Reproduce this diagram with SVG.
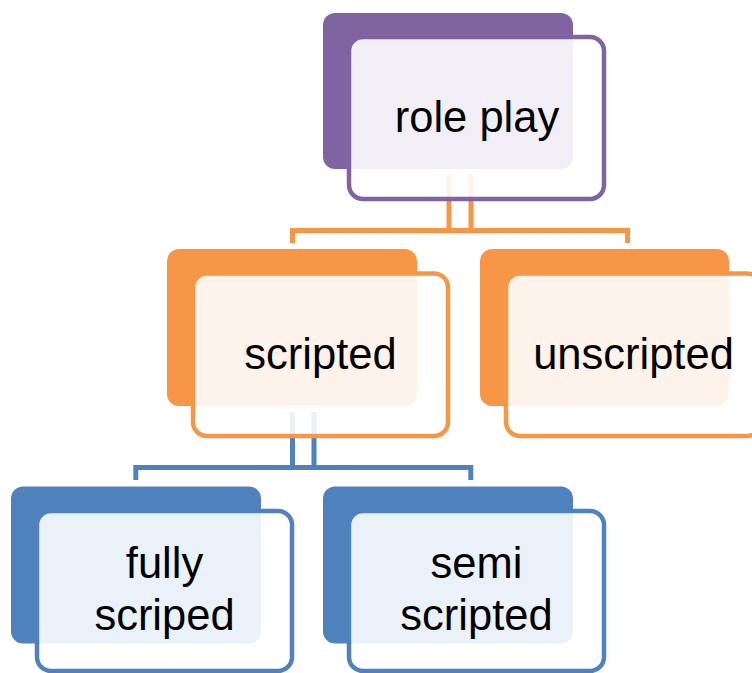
<svg xmlns="http://www.w3.org/2000/svg" width="752" height="673" viewBox="0 0 752 673">
<style>
.bg{fill:#fff}
.lbl{font-family:"Liberation Sans",Arial,sans-serif;font-size:43.5px;fill:#000;text-anchor:middle}
.front{fill:#fff;fill-opacity:.89;stroke-width:4.5}
.conn{fill:none;stroke-width:5;stroke-linejoin:miter}
.p .back{fill:#8064A2}.p .front{stroke:#8064A2}
.o .back{fill:#F79646}.o .front{stroke:#F79646}
.b .back{fill:#4F81BD}.b .front{stroke:#4F81BD}
</style>
<rect class="bg" x="0" y="0" width="752" height="673"/>
<g id="connectors">
<path class="conn" stroke="#F79646" d="M449,175 V230.5 M471,175 V230.5 M292.5,243 V230.5 H627.5 V243"/>
<path class="conn" stroke="#4F81BD" d="M292.5,412 V467.5 M314,412 V467.5 M135.8,480 V467.5 H470.8 V480"/>
</g>
<g id="role-play" class="p">
<rect class="back" x="323" y="13" width="250" height="156" rx="12"/>
<rect class="front" x="349" y="37" width="255" height="162" rx="14"/>
<text class="lbl" x="477" y="131.7">role play</text>
</g>
<g id="scripted" class="o">
<rect class="back" x="167" y="249" width="250" height="157" rx="12"/>
<rect class="front" x="193" y="273.5" width="255" height="162.5" rx="14"/>
<text class="lbl" x="320.5" y="368.5">scripted</text>
</g>
<g id="unscripted" class="o">
<rect class="back" x="480" y="249" width="249" height="157" rx="12"/>
<rect class="front" x="506" y="273.5" width="255" height="162.5" rx="14"/>
<text class="lbl" x="633.5" y="368.5">unscripted</text>
</g>
<g id="fully-scriped" class="b">
<rect class="back" x="11" y="486.5" width="250" height="157" rx="12"/>
<rect class="front" x="37" y="511" width="255" height="160" rx="14"/>
<text class="lbl" x="164.5" y="578.3">fully</text>
<text class="lbl" x="164.5" y="630">scriped</text>
</g>
<g id="semi-scripted" class="b">
<rect class="back" x="323" y="486.5" width="250" height="157" rx="12"/>
<rect class="front" x="349" y="511" width="255" height="160" rx="14"/>
<text class="lbl" x="476.5" y="578.3">semi</text>
<text class="lbl" x="476.5" y="630">scripted</text>
</g>
</svg>
